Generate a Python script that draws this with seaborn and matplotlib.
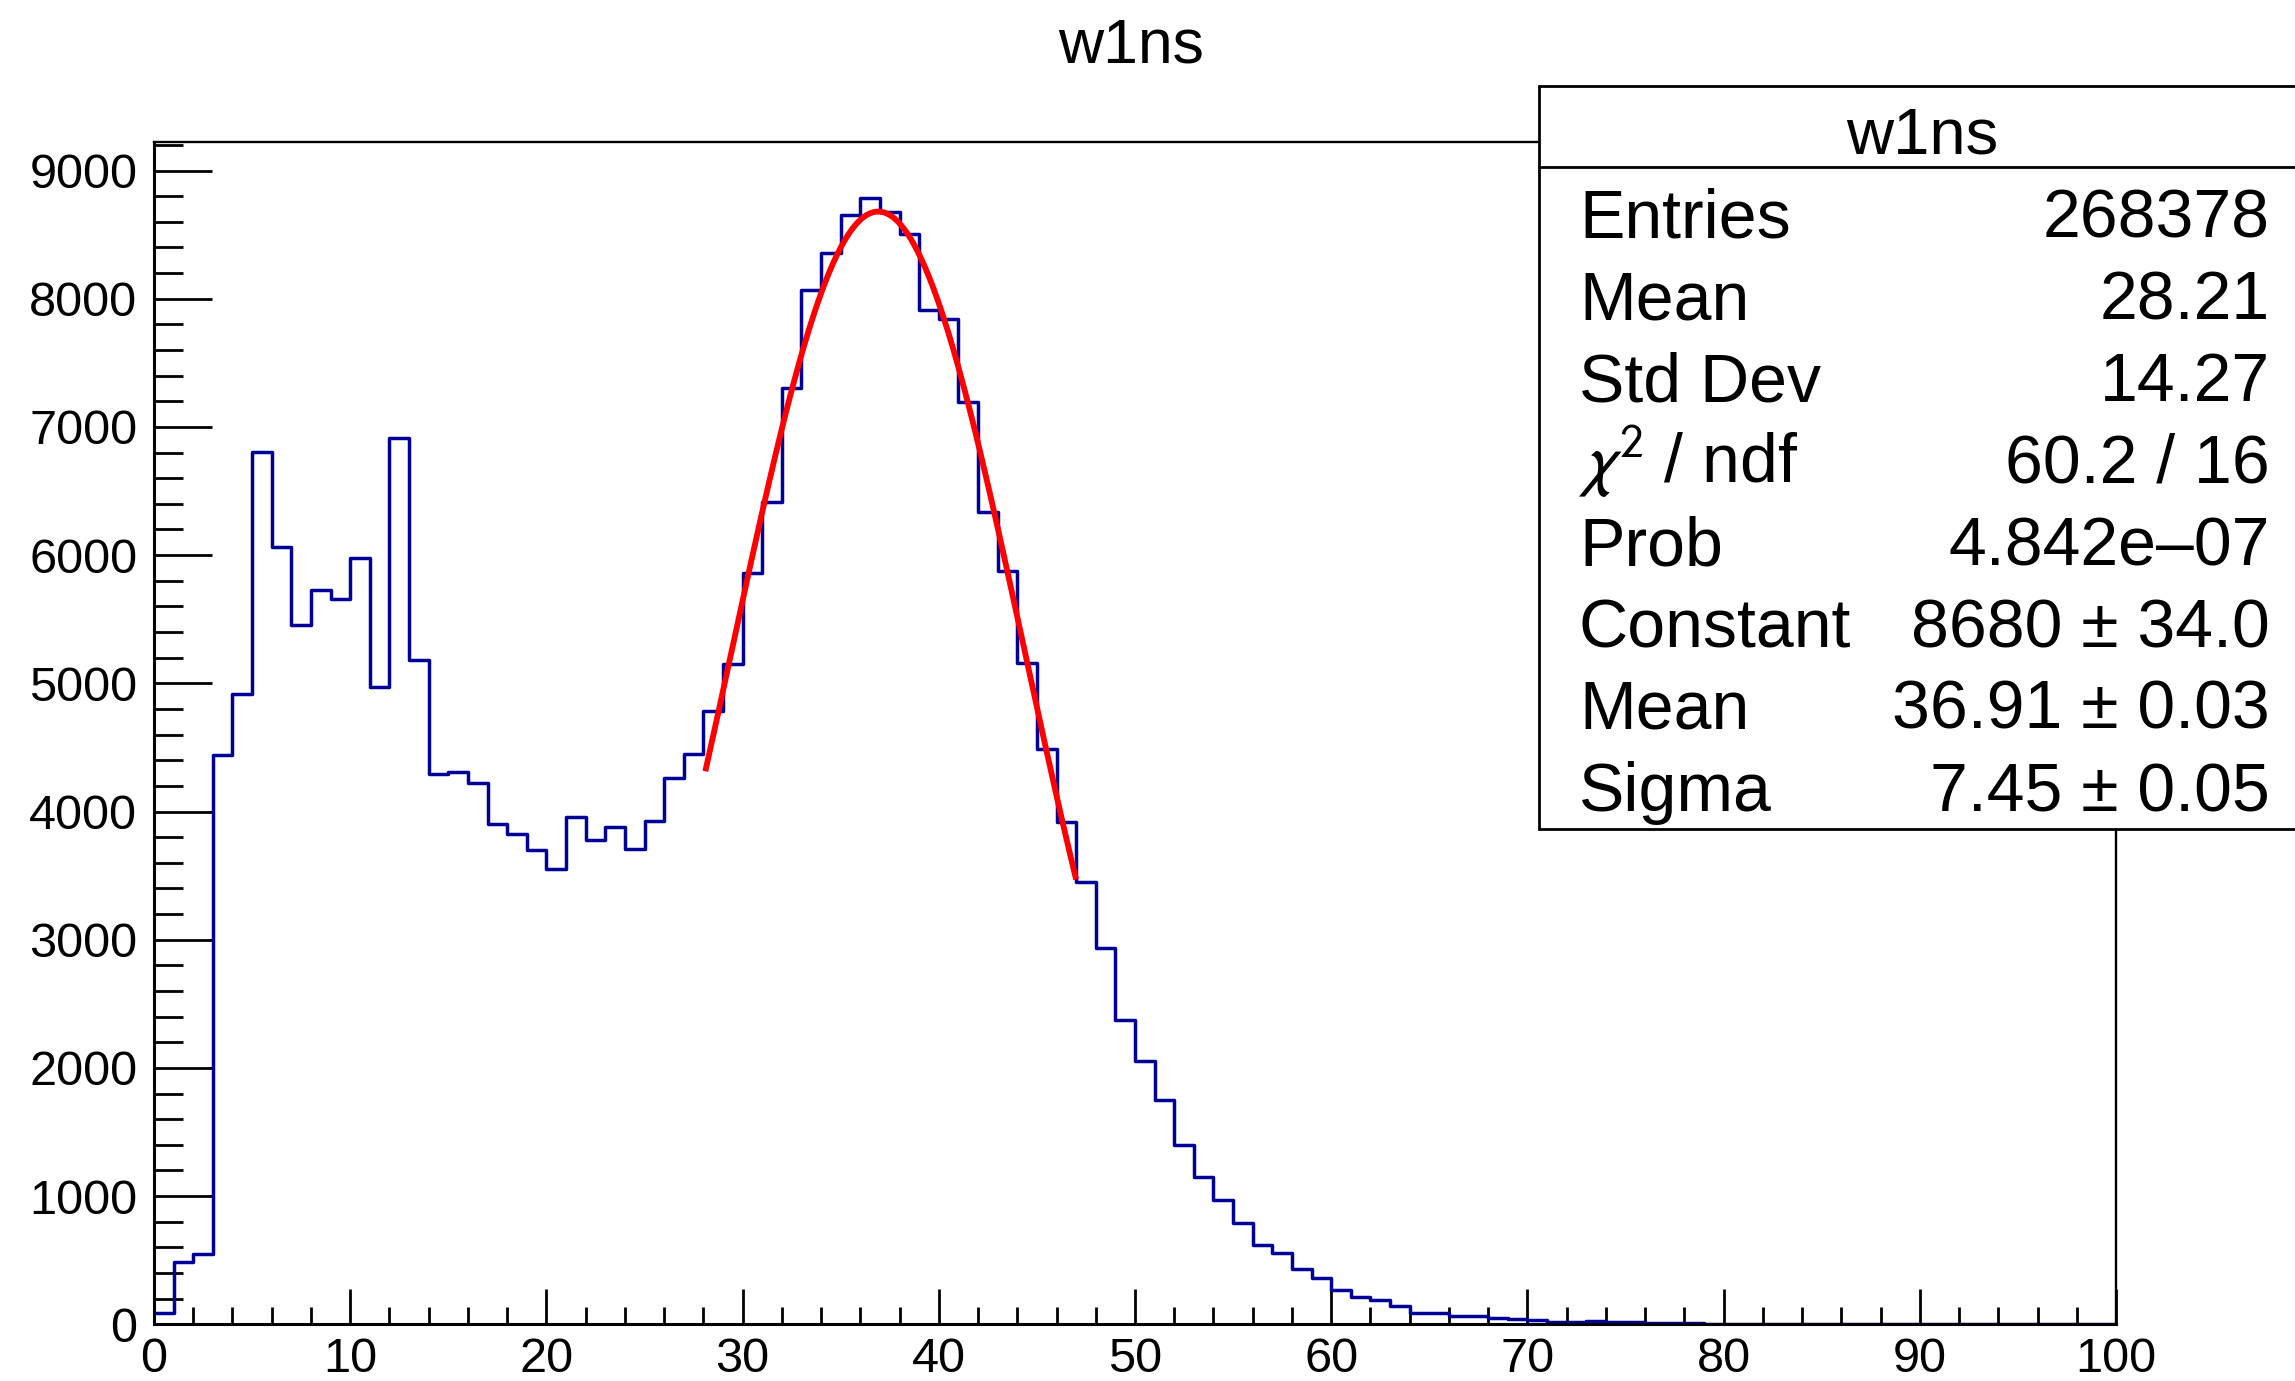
import numpy as np
import pandas as pd
import matplotlib
matplotlib.use("Agg")
import matplotlib.pyplot as plt
import seaborn as sns
from matplotlib.patches import Rectangle
from matplotlib.lines import Line2D
from matplotlib.ticker import MultipleLocator

# ---------------- data ----------------
TITLE = "w1ns"
X_MIN, X_MAX, N_BINS = 0, 100, 100
COUNTS = [
    86, 487, 550, 4439, 4918, 6804, 6064, 5452, 5731, 5658,
    5979, 4973, 6913, 5185, 4294, 4306, 4221, 3905, 3821, 3699,
    3554, 3954, 3778, 3881, 3705, 3924, 4263, 4450, 4787, 5154,
    5863, 6412, 7307, 8065, 8358, 8651, 8788, 8680, 8507, 7909,
    7844, 7193, 6334, 5874, 5158, 4484, 3915, 3447, 2935, 2372,
    2055, 1750, 1396, 1151, 971, 794, 622, 555, 434, 359,
    268, 215, 186, 141, 92, 86, 65, 66, 48, 40,
    33, 20, 20, 26, 19, 18, 14, 10, 8, 5,
    4, 3, 3, 2, 2, 1, 1, 1, 1, 0,
    0, 0, 0, 0, 0, 0, 0, 0, 0, 0,
]
# Gaussian fit parameters (as printed in the stats box)
FIT_CONSTANT = 8680.0
FIT_MEAN = 36.91
FIT_SIGMA = 7.45
FIT_RANGE = (28.1, 47.0)

STAT_LABELS = ["Entries", "Mean", "Std Dev", r"$\chi^{2}$ / ndf", "Prob",
               "Constant", "Mean", "Sigma"]
STAT_VALUES = ["268378", "28.21", "14.27", "60.2 / 16", "4.842e\u201307",
               "8680 \u00b1 34.0", "36.91 \u00b1 0.03", "7.45 \u00b1 0.05"]
Y_TOP = 9225

# ---------------- style ----------------
sns.set_style("white")
plt.rcParams["font.family"] = ["Liberation Sans", "DejaVu Sans"]
plt.rcParams["mathtext.fontset"] = "stixsans"
plt.rcParams["text.color"] = "black"
plt.rcParams["xtick.color"] = "black"
plt.rcParams["ytick.color"] = "black"
plt.rcParams["axes.labelcolor"] = "black"
plt.rcParams["axes.edgecolor"] = "black"

W, H = 2295, 1381
fig = plt.figure(figsize=(W / 100, H / 100), dpi=100, facecolor="white")

def fx(px):
    return px / W

def fy(py):
    return 1 - py / H

ax_l, ax_r, ax_t, ax_b = 154, 2116, 141.7, 1324.3
ax = fig.add_axes([fx(ax_l), fy(ax_b), fx(ax_r - ax_l), (ax_b - ax_t) / H])
ax.set_facecolor("white")

binw = (X_MAX - X_MIN) / N_BINS
centers = X_MIN + binw * (np.arange(N_BINS) + 0.5)
df = pd.DataFrame({"x": centers, "w": np.asarray(COUNTS, dtype=float)})

sns.histplot(data=df, x="x", weights="w", binwidth=binw,
             binrange=(X_MIN, X_MAX), element="step",
             fill=False, color="#000099", linewidth=2.5, ax=ax)

xf = np.linspace(FIT_RANGE[0], FIT_RANGE[1], 300)
yf = FIT_CONSTANT * np.exp(-0.5 * ((xf - FIT_MEAN) / FIT_SIGMA) ** 2)
sns.lineplot(x=xf, y=yf, color="#ff0000", linewidth=4.2, ax=ax,
             solid_capstyle="butt")

ax.set_xlim(X_MIN, X_MAX)
ax.set_ylim(0, Y_TOP)
ax.set_xlabel("")
ax.set_ylabel("")

ax.xaxis.set_major_locator(MultipleLocator(10))
ax.xaxis.set_minor_locator(MultipleLocator(2))
ax.yaxis.set_major_locator(MultipleLocator(1000))
ax.yaxis.set_minor_locator(MultipleLocator(200))

ax.tick_params(axis="x", which="major", direction="in", length=25, width=2.0,
               labelsize=35, pad=9, top=False, bottom=True, colors="black")
ax.tick_params(axis="x", which="minor", direction="in", length=12, width=2.0,
               top=False, bottom=True, colors="black")
ax.tick_params(axis="y", which="major", direction="in", length=42, width=2.0,
               labelsize=35, pad=12, left=True, right=False, colors="black")
ax.tick_params(axis="y", which="minor", direction="in", length=21, width=2.0,
               left=True, right=False, colors="black")

for name, s in ax.spines.items():
    s.set_linewidth(2.2 if name in ("left", "bottom") else 1.7)
    s.set_color("black")

# title
fig.text(fx(1131), fy(62.7), TITLE, ha="center", va="baseline", fontsize=45,
         color="black")

# stats box
bx0, bx1, by0, by1, bsep = 1539, 2310, 86, 829, 167
fig.add_artist(Rectangle((fx(bx0), fy(by1)), fx(bx1 - bx0), (by1 - by0) / H,
                         transform=fig.transFigure, facecolor="white",
                         edgecolor="black", linewidth=2.0, zorder=5))
fig.add_artist(Line2D([fx(bx0), fx(bx1)], [fy(bsep), fy(bsep)],
                      transform=fig.transFigure, color="black", linewidth=2.0,
                      zorder=6))
fig.text(fx(1922), fy(153.5), TITLE, ha="center", va="baseline", fontsize=47,
         zorder=7, color="black")
baselines = [237, 319, 401, 483, 565, 647, 729, 811]
for lab, val, yb in zip(STAT_LABELS, STAT_VALUES, baselines):
    fig.text(fx(1579), fy(yb), lab, ha="left", va="baseline", fontsize=49,
             zorder=7, color="black")
    fig.text(fx(2270), fy(yb), val, ha="right", va="baseline", fontsize=49,
             zorder=7, color="black")

fig.savefig("out.png", dpi=100, facecolor="white")
